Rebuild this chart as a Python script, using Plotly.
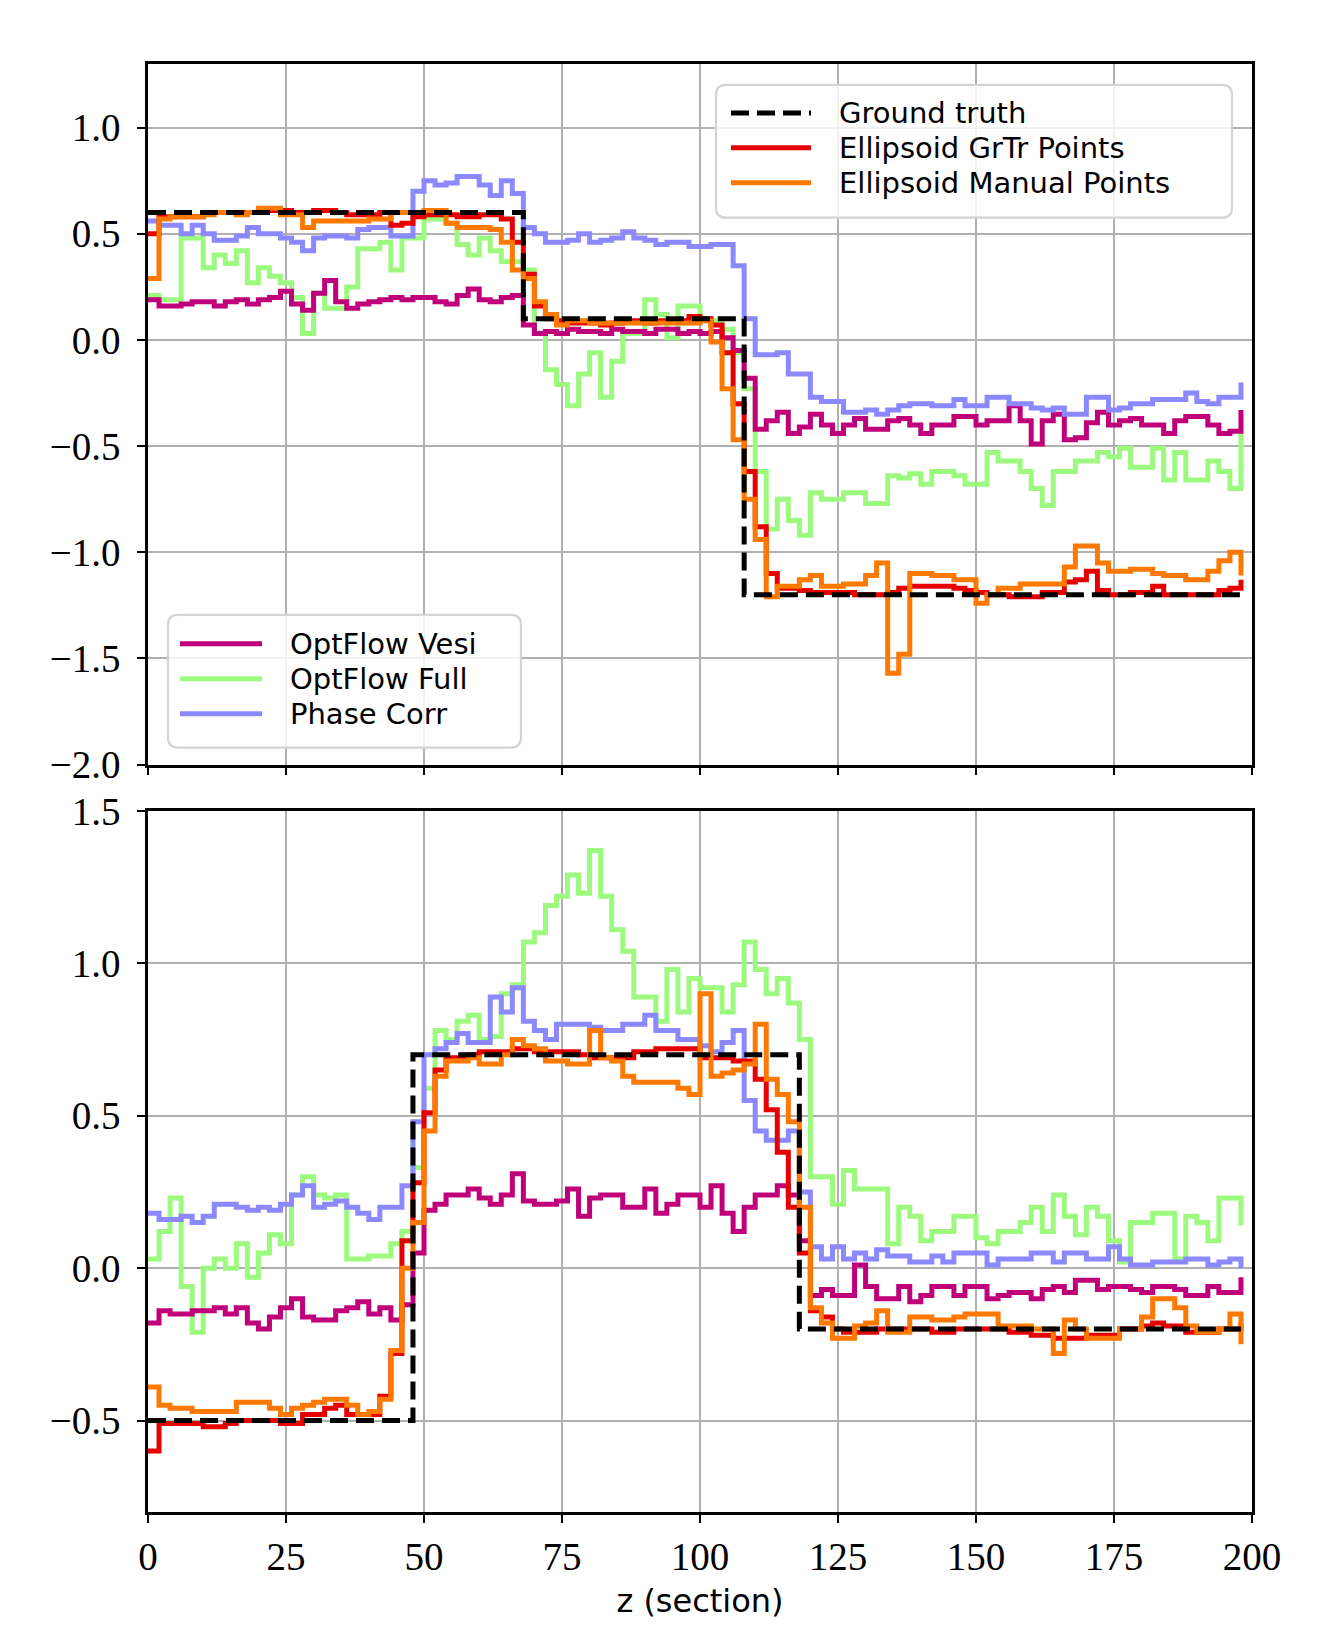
import plotly.graph_objects as go

# ---------------- data ----------------
z = list(range(0, 200, 2))
x_ticks = [0, 25, 50, 75, 100, 125, 150, 175, 200]
x_ticktext = ["0", "25", "50", "75", "100", "125", "150", "175", "200"]
top_yticks = [-2.0, -1.5, -1.0, -0.5, 0.0, 0.5, 1.0]
top_yticktext = ["\u22122.0", "\u22121.5", "\u22121.0", "\u22120.5", "0.0", "0.5", "1.0"]
bot_yticks = [-0.5, 0.0, 0.5, 1.0, 1.5]
bot_yticktext = ["\u22120.5", "0.0", "0.5", "1.0", "1.5"]

gt_top_z = [0, 68, 108, 198]
gt_top = [0.6, 0.1, -1.2, -1.2]
gt_bot_z = [0, 48, 118, 198]
gt_bot = [-0.5, 0.7, -0.2, -0.2]

vesi_top = [0.19, 0.16, 0.16, 0.17, 0.18, 0.18, 0.16, 0.18, 0.19, 0.17,
            0.19, 0.20, 0.23, 0.17, 0.14, 0.22, 0.28, 0.18, 0.15, 0.17,
            0.18, 0.19, 0.20, 0.19, 0.20, 0.20, 0.18, 0.17, 0.21, 0.24,
            0.19, 0.18, 0.20, 0.21, 0.07, 0.03, 0.04, 0.03, 0.05, 0.04,
            0.04, 0.03, 0.05, 0.04, 0.04, 0.03, 0.05, 0.05, 0.03, 0.04,
            0.03, 0.04, 0.01, -0.05, -0.18, -0.42, -0.38, -0.34, -0.44, -0.41,
            -0.35, -0.40, -0.44, -0.40, -0.37, -0.42, -0.42, -0.38, -0.37, -0.40,
            -0.44, -0.40, -0.40, -0.36, -0.36, -0.40, -0.38, -0.38, -0.31, -0.38,
            -0.49, -0.38, -0.35, -0.47, -0.46, -0.39, -0.34, -0.40, -0.38, -0.37,
            -0.40, -0.40, -0.44, -0.38, -0.36, -0.36, -0.40, -0.44, -0.43, -0.33]
full_top = [0.21, 0.19, 0.19, 0.48, 0.48, 0.34, 0.40, 0.36, 0.42, 0.27,
            0.34, 0.30, 0.27, 0.20, 0.03, 0.22, 0.15, 0.15, 0.25, 0.43,
            0.43, 0.46, 0.33, 0.48, 0.48, 0.57, 0.57, 0.55, 0.45, 0.40,
            0.48, 0.42, 0.37, 0.37, 0.33, 0.03, -0.14, -0.21, -0.31, -0.16,
            -0.06, -0.27, -0.10, 0.03, 0.03, 0.19, 0.12, 0.01, 0.16, 0.16,
            0.09, 0.09, 0.05, -0.06, -0.23, -0.62, -0.89, -0.75, -0.85, -0.92,
            -0.72, -0.75, -0.75, -0.72, -0.72, -0.77, -0.77, -0.64, -0.65, -0.63,
            -0.68, -0.62, -0.62, -0.64, -0.68, -0.68, -0.53, -0.57, -0.57, -0.62,
            -0.70, -0.78, -0.62, -0.62, -0.57, -0.57, -0.53, -0.55, -0.51, -0.60,
            -0.60, -0.51, -0.66, -0.53, -0.66, -0.66, -0.57, -0.62, -0.70, -0.42]
phase_top = [0.56, 0.54, 0.54, 0.50, 0.54, 0.50, 0.47, 0.47, 0.49, 0.53,
             0.50, 0.50, 0.48, 0.46, 0.42, 0.48, 0.49, 0.49, 0.48, 0.52,
             0.53, 0.53, 0.49, 0.49, 0.70, 0.75, 0.73, 0.74, 0.77, 0.77,
             0.73, 0.68, 0.75, 0.69, 0.53, 0.50, 0.46, 0.46, 0.47, 0.50,
             0.46, 0.47, 0.48, 0.51, 0.48, 0.47, 0.45, 0.46, 0.46, 0.44,
             0.44, 0.45, 0.45, 0.35, 0.10, -0.07, -0.07, -0.06, -0.16, -0.16,
             -0.27, -0.29, -0.29, -0.34, -0.34, -0.33, -0.35, -0.33, -0.31, -0.30,
             -0.30, -0.31, -0.31, -0.28, -0.31, -0.31, -0.27, -0.27, -0.30, -0.30,
             -0.32, -0.33, -0.32, -0.35, -0.35, -0.27, -0.27, -0.33, -0.32, -0.30,
             -0.30, -0.28, -0.28, -0.28, -0.25, -0.29, -0.30, -0.27, -0.27, -0.20]
grtr_top = [0.50, 0.58, 0.58, 0.58, 0.58, 0.60, 0.60, 0.60, 0.60, 0.60,
            0.61, 0.61, 0.61, 0.60, 0.60, 0.61, 0.61, 0.60, 0.59, 0.59,
            0.59, 0.60, 0.54, 0.55, 0.58, 0.59, 0.59, 0.59, 0.58, 0.58,
            0.59, 0.59, 0.57, 0.46, 0.31, 0.16, 0.10, 0.09, 0.08, 0.08,
            0.08, 0.07, 0.08, 0.09, 0.09, 0.08, 0.09, 0.09, 0.09, 0.11,
            0.10, 0.07, -0.06, -0.30, -0.62, -0.88, -1.10, -1.17, -1.17, -1.18,
            -1.19, -1.19, -1.19, -1.19, -1.20, -1.20, -1.20, -1.19, -1.17, -1.16,
            -1.16, -1.16, -1.16, -1.17, -1.18, -1.19, -1.20, -1.20, -1.21, -1.21,
            -1.21, -1.19, -1.19, -1.14, -1.13, -1.09, -1.18, -1.20, -1.20, -1.19,
            -1.19, -1.16, -1.20, -1.20, -1.20, -1.20, -1.20, -1.18, -1.17, -1.13]
manual_top = [0.29, 0.57, 0.58, 0.58, 0.58, 0.59, 0.60, 0.60, 0.59, 0.60,
              0.62, 0.62, 0.59, 0.59, 0.53, 0.56, 0.56, 0.56, 0.56, 0.56,
              0.57, 0.57, 0.60, 0.60, 0.60, 0.61, 0.61, 0.55, 0.53, 0.53,
              0.53, 0.52, 0.46, 0.33, 0.29, 0.18, 0.12, 0.07, 0.09, 0.09,
              0.08, 0.08, 0.08, 0.08, 0.08, 0.08, 0.08, 0.08, 0.08, 0.08,
              0.09, -0.01, -0.23, -0.47, -0.75, -0.94, -1.21, -1.16, -1.16, -1.13,
              -1.11, -1.16, -1.16, -1.15, -1.15, -1.11, -1.05, -1.57, -1.48, -1.10,
              -1.10, -1.11, -1.11, -1.13, -1.13, -1.24, -1.20, -1.17, -1.17, -1.15,
              -1.15, -1.15, -1.15, -1.07, -0.97, -0.97, -1.05, -1.09, -1.09, -1.08,
              -1.08, -1.10, -1.11, -1.11, -1.13, -1.13, -1.09, -1.04, -1.00, -1.11]

vesi_bot = [-0.18, -0.14, -0.15, -0.15, -0.14, -0.14, -0.13, -0.15, -0.13, -0.18,
            -0.20, -0.16, -0.13, -0.10, -0.16, -0.17, -0.17, -0.14, -0.13, -0.11,
            -0.15, -0.13, -0.17, -0.12, 0.05, 0.19, 0.21, 0.24, 0.24, 0.26,
            0.23, 0.21, 0.24, 0.31, 0.22, 0.21, 0.21, 0.22, 0.26, 0.17,
            0.23, 0.24, 0.24, 0.20, 0.20, 0.26, 0.18, 0.21, 0.24, 0.24,
            0.20, 0.27, 0.18, 0.12, 0.20, 0.24, 0.24, 0.27, 0.24, 0.09,
            -0.09, -0.07, -0.09, -0.09, 0.01, -0.06, -0.10, -0.10, -0.06, -0.11,
            -0.09, -0.06, -0.06, -0.09, -0.06, -0.06, -0.10, -0.09, -0.08, -0.08,
            -0.10, -0.07, -0.06, -0.08, -0.04, -0.04, -0.07, -0.06, -0.06, -0.07,
            -0.08, -0.06, -0.06, -0.07, -0.09, -0.09, -0.06, -0.08, -0.08, -0.03]
full_bot = [0.03, 0.12, 0.23, -0.06, -0.21, 0.00, 0.03, 0.00, 0.08, -0.03,
            0.05, 0.11, 0.08, 0.24, 0.30, 0.24, 0.23, 0.24, 0.03, 0.03,
            0.04, 0.04, 0.08, 0.12, 0.33, 0.59, 0.78, 0.75, 0.81, 0.83,
            0.75, 0.76, 0.90, 0.93, 1.07, 1.10, 1.19, 1.22, 1.29, 1.23,
            1.37, 1.22, 1.11, 1.04, 0.89, 0.89, 0.81, 0.98, 0.84, 0.95,
            0.92, 0.92, 0.84, 0.93, 1.07, 0.98, 0.90, 0.95, 0.87, 0.75,
            0.30, 0.30, 0.21, 0.32, 0.26, 0.26, 0.26, 0.08, 0.20, 0.17,
            0.09, 0.12, 0.12, 0.17, 0.17, 0.10, 0.08, 0.12, 0.12, 0.15,
            0.20, 0.12, 0.24, 0.17, 0.11, 0.20, 0.17, 0.09, 0.02, 0.15,
            0.15, 0.18, 0.18, 0.03, 0.17, 0.15, 0.09, 0.23, 0.23, 0.14]
phase_bot = [0.18, 0.16, 0.16, 0.17, 0.15, 0.17, 0.21, 0.21, 0.20, 0.19,
             0.20, 0.19, 0.21, 0.24, 0.27, 0.20, 0.21, 0.22, 0.20, 0.18,
             0.16, 0.20, 0.20, 0.27, 0.48, 0.70, 0.72, 0.74, 0.77, 0.74,
             0.74, 0.89, 0.84, 0.92, 0.81, 0.78, 0.75, 0.80, 0.80, 0.80,
             0.79, 0.78, 0.78, 0.80, 0.80, 0.83, 0.78, 0.78, 0.75, 0.75,
             0.73, 0.71, 0.74, 0.78, 0.55, 0.45, 0.42, 0.42, 0.45, 0.25,
             0.07, 0.03, 0.07, 0.03, 0.05, 0.03, 0.06, 0.04, 0.04, 0.02,
             0.02, 0.04, 0.02, 0.05, 0.05, 0.05, 0.01, 0.03, 0.03, 0.03,
             0.05, 0.05, 0.02, 0.05, 0.05, 0.03, 0.03, 0.07, 0.03, 0.01,
             0.01, 0.02, 0.02, 0.02, 0.03, 0.03, 0.01, 0.02, 0.03, 0.00]
grtr_bot = [-0.60, -0.51, -0.51, -0.51, -0.51, -0.52, -0.52, -0.51, -0.50, -0.50,
            -0.50, -0.50, -0.51, -0.51, -0.48, -0.48, -0.46, -0.45, -0.48, -0.48,
            -0.48, -0.42, -0.28, 0.09, 0.28, 0.51, 0.65, 0.69, 0.69, 0.70,
            0.71, 0.71, 0.71, 0.72, 0.72, 0.71, 0.71, 0.71, 0.71, 0.70,
            0.69, 0.69, 0.69, 0.69, 0.71, 0.71, 0.72, 0.72, 0.72, 0.72,
            0.69, 0.69, 0.69, 0.68, 0.68, 0.62, 0.52, 0.38, 0.20, 0.05,
            -0.14, -0.16, -0.20, -0.21, -0.21, -0.21, -0.20, -0.20, -0.20, -0.20,
            -0.20, -0.21, -0.21, -0.20, -0.20, -0.20, -0.20, -0.20, -0.21, -0.21,
            -0.22, -0.22, -0.23, -0.23, -0.23, -0.22, -0.22, -0.22, -0.20, -0.20,
            -0.19, -0.18, -0.19, -0.19, -0.21, -0.21, -0.21, -0.20, -0.20, -0.18]
manual_bot = [-0.39, -0.45, -0.46, -0.46, -0.47, -0.47, -0.47, -0.47, -0.44, -0.44,
              -0.44, -0.46, -0.48, -0.46, -0.45, -0.44, -0.43, -0.43, -0.45, -0.48,
              -0.47, -0.43, -0.27, 0.00, 0.15, 0.45, 0.63, 0.68, 0.68, 0.69,
              0.67, 0.67, 0.70, 0.75, 0.73, 0.72, 0.68, 0.68, 0.67, 0.67,
              0.78, 0.69, 0.68, 0.63, 0.61, 0.61, 0.61, 0.61, 0.59, 0.57,
              0.90, 0.63, 0.64, 0.65, 0.67, 0.80, 0.62, 0.57, 0.48, 0.20,
              -0.13, -0.18, -0.23, -0.23, -0.19, -0.18, -0.14, -0.21, -0.21, -0.16,
              -0.16, -0.17, -0.17, -0.16, -0.15, -0.15, -0.15, -0.19, -0.19, -0.19,
              -0.20, -0.20, -0.28, -0.17, -0.20, -0.23, -0.23, -0.23, -0.20, -0.20,
              -0.16, -0.10, -0.10, -0.13, -0.19, -0.21, -0.21, -0.20, -0.15, -0.25]

names_a = ["Ground truth", "Ellipsoid GrTr Points", "Ellipsoid Manual Points"]
names_b = ["OptFlow Vesi", "OptFlow Full", "Phase Corr"]

# ---------------- style ----------------
C_GT = "#000000"
C_GRTR = "#e60000"
C_MAN = "#ff7800"
C_VESI = "#c0007a"
C_FULL = "#9cfa7e"
C_PHASE = "#8c88ff"
LW = 5
GT_DASH = "18px,8px"
SERIF = "Liberation Serif"
SANS = "DejaVu Sans"

OFF = 8                      # default page margin of the html body
W, H = 1334 - OFF, 1626 - OFF
ML, MT = 148 - OFF, 64 - OFF
PW, PH = 1104, 1451
MR, MB = W - ML - PW, H - MT - PH


def px_x(px):
    return (px - OFF - ML) / PW


def px_y(py):
    return 1 - (py - OFF - MT) / PH


fig = go.Figure()


def add(xs, ys, color, name, panel, dash=None):
    xa, ya = ("x", "y") if panel == 0 else ("x2", "y2")
    line = dict(color=color, width=LW, shape="hv")
    if dash:
        line["dash"] = dash
    fig.add_trace(go.Scatter(x=xs, y=ys, mode="lines", line=line, name=name,
                             xaxis=xa, yaxis=ya, showlegend=False,
                             hoverinfo="skip"))


for p, (vs, fu, ph, gr, ma, gz, gv) in enumerate([
        (vesi_top, full_top, phase_top, grtr_top, manual_top, gt_top_z, gt_top),
        (vesi_bot, full_bot, phase_bot, grtr_bot, manual_bot, gt_bot_z, gt_bot)]):
    add(z, fu, C_FULL, names_b[1], p)
    add(z, vs, C_VESI, names_b[0], p)
    add(z, ph, C_PHASE, names_b[2], p)
    add(z, gr, C_GRTR, names_a[1], p)
    add(z, ma, C_MAN, names_a[2], p)
    add(gz, gv, C_GT, names_a[0], p, dash=GT_DASH)

axis_common = dict(showgrid=True, gridcolor="#b0b0b0", gridwidth=2,
                   zeroline=False, showline=True, linecolor="black",
                   linewidth=2.5, mirror=True, ticks="outside", ticklen=8,
                   tickwidth=2, tickcolor="black",
                   tickfont=dict(family=SERIF, size=39, color="black"))

top_frac = 702 / PH
bot_frac = 702.5 / PH

fig.update_layout(
    width=W, height=H,
    margin=dict(l=ML, r=MR, t=MT, b=MB),
    paper_bgcolor="white", plot_bgcolor="white",
    xaxis=dict(axis_common, domain=[0, 1], anchor="y", range=[0, 200],
               tickvals=x_ticks, showticklabels=False),
    yaxis=dict(axis_common, domain=[1 - top_frac, 1], anchor="x",
               range=[-2.0, 1.3], tickvals=top_yticks,
               ticktext=top_yticktext, ticklabelstandoff=9),
    xaxis2=dict(axis_common, domain=[0, 1], anchor="y2", range=[0, 200],
                tickvals=x_ticks, ticktext=x_ticktext,
                title=dict(text="z (section)",
                           font=dict(family=SANS, size=32, color="black"),
                           standoff=14)),
    yaxis2=dict(axis_common, domain=[0, bot_frac], anchor="x2",
                range=[-0.8, 1.5], tickvals=bot_yticks,
                ticktext=bot_yticktext, ticklabelstandoff=9),
    showlegend=False,
)

# ---------------- manual legends ----------------
shapes = []
annotations = []


def rounded_box(x0, y0, x1, y1, r=10):
    pts = [
        ("M", x0 + r, y0), ("L", x1 - r, y0), ("Q", x1, y0, x1, y0 + r),
        ("L", x1, y1 - r), ("Q", x1, y1, x1 - r, y1), ("L", x0 + r, y1),
        ("Q", x0, y1, x0, y1 - r), ("L", x0, y0 + r), ("Q", x0, y0, x0 + r, y0)]
    parts = []
    for p in pts:
        cmd = p[0]
        coords = p[1:]
        s = []
        for i in range(0, len(coords), 2):
            s.append(f"{px_x(coords[i]):.5f},{px_y(coords[i + 1]):.5f}")
        parts.append(cmd + " " + " ".join(s))
    return " ".join(parts) + " Z"


def legend(box, line_x, text_x, rows, names, colors, dashes):
    shapes.append(dict(type="path", xref="paper", yref="paper",
                       path=rounded_box(*box), layer="above",
                       fillcolor="rgba(255,255,255,0.82)",
                       line=dict(color="#d4d4d4", width=2.2)))
    for ry, nm, col, ds in zip(rows, names, colors, dashes):
        ln = dict(color=col, width=LW)
        if ds:
            ln["dash"] = ds
        shapes.append(dict(type="line", xref="paper", yref="paper",
                           x0=px_x(line_x[0]), x1=px_x(line_x[1]),
                           y0=px_y(ry), y1=px_y(ry), layer="above", line=ln))
        annotations.append(dict(xref="paper", yref="paper", x=px_x(text_x),
                                y=px_y(ry), xanchor="left", yanchor="middle",
                                text=nm, showarrow=False, borderpad=0,
                                font=dict(family=SANS, size=29, color="black")))


legend((716, 85, 1232, 218), (731, 811), 838, [113, 148, 183],
       names_a, [C_GT, C_GRTR, C_MAN], [GT_DASH, None, None])
legend((168, 616, 521, 749), (180, 262), 289, [645, 680, 715],
       names_b, [C_VESI, C_FULL, C_PHASE], [None, None, None])

fig.update_layout(shapes=shapes, annotations=annotations)

fig.write_html("out.html")
